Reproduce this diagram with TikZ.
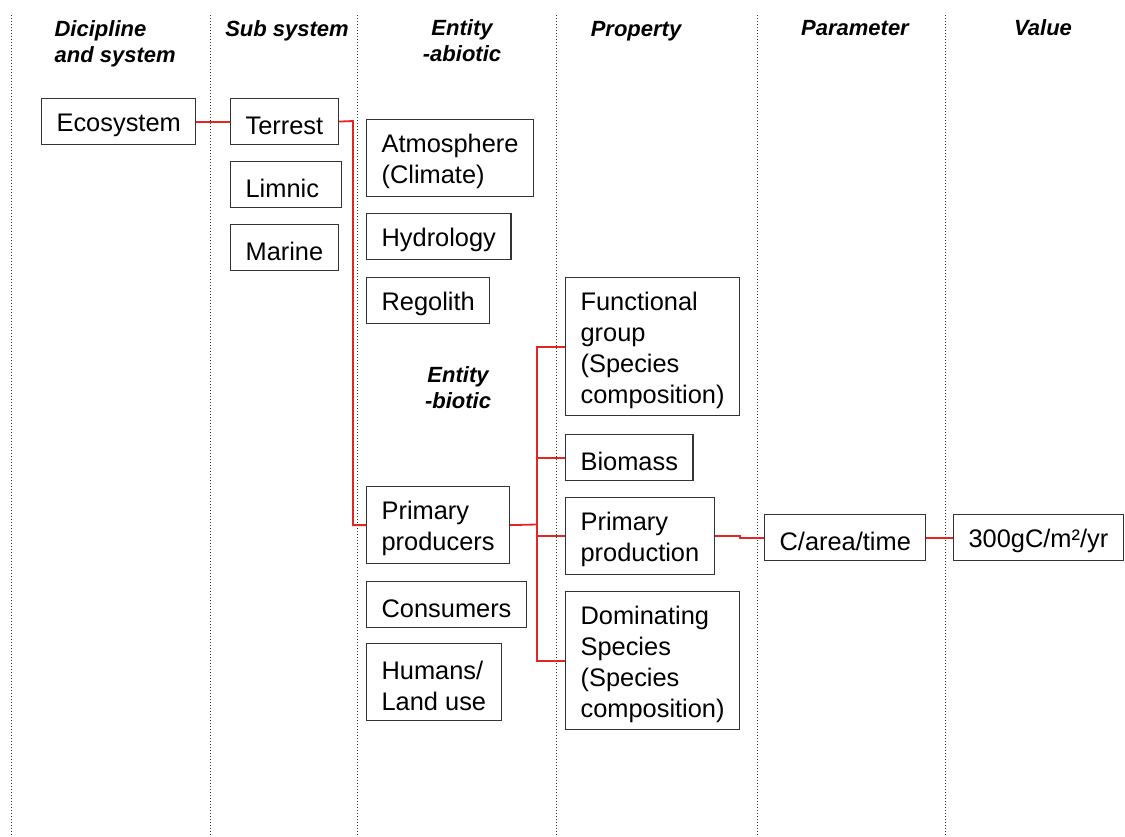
\documentclass[tikz,border=0pt]{standalone}
\usepackage{fontspec}
\setmainfont{Liberation Sans}
\usetikzlibrary{calc}
\definecolor{linkred}{RGB}{226,38,38}
\newcommand{\tall}{\rule{0pt}{13pt}}

\begin{document}
\begin{tikzpicture}[x=0.5pt,y=-0.5pt,
  every node/.style={draw=black!80, line width=0.6pt, anchor=north west, align=left, inner xsep=7.5pt, inner ysep=0pt, font=\fontsize{12.7}{15.5}\selectfont},
  box1/.style={minimum height=23pt},
  box2/.style={minimum height=38.5pt},
  box4/.style={minimum height=69pt},
  head/.style={draw=none, anchor=center, align=center, inner sep=0pt, font=\fontsize{11}{13}\selectfont\bfseries\itshape},
  link/.style={draw=linkred, line width=0.9pt}]
	\useasboundingbox (0,0) rectangle (1125,836);
	%% column rules
	\foreach \x in {11,210,357,556,757,945}{
		\draw[densely dotted, line width=0.5pt, black!80] (\x,15) -- (\x,836);
		}
	%% column heads
	\node[head, anchor=west, align=left] (h1) at (54,44){Dicipline\\and system};
	\node[head] (h2) at (287,31){Sub system};
	\node[head] (h3) at (462,41){Entity\\-abiotic};
	\node[head] (h4) at (636,31){Property};
	\node[head] (h5) at (855,28){Parameter};
	\node[head] (h6) at (1043,28){Value};
	\node[head] (h7) at (458,388){Entity\\-biotic};
	%system and sub systems
	\node[box1] (eco) at (41,98){\tall Ecosystem};
	\node[box1] (terr) at (230,98){\tall Terrest};
	\node[box1, text width=40.5pt] (limn) at (230,161){\tall Limnic};
	\node[box1] (mar) at (230,224){\tall Marine};
	%entities
	\node[box2] (atmo) at (366,119){\tall Atmosphere\\(Climate)};
	\node[box1] (hydro) at (366,213){\tall Hydrology};
	\node[box1] (rego) at (366,277){\tall Regolith};
	\node[box2] (pprod) at (366,486){\tall Primary\\producers};
	\node[box1] (cons) at (366,581){\tall Consumers};
	\node[box2] (hum) at (366,643){\tall Humans/\\Land use};
	%properties
	\node[box4] (func) at (565,277){\tall Functional\\group\\(Species\\composition)};
	\node[box1] (bio) at (565,434){\tall Biomass};
	\node[box2] (pprodn) at (565,497){\tall Primary\\production};
	\node[box4] (dom) at (565,591){\tall Dominating\\Species\\(Species\\composition)};
	%parameter and value
	\node[box1] (carea) at (764,514){\tall C/area/time};
	\node[box1] (val) at (953,514){\tall 300gC/m²/yr};
	%% red links
	\coordinate (b1) at (353,121);
	\coordinate (b2) at (537,524.5);
	\draw[link] (eco.east) -- (terr.west);
	\draw[link] (terr.east) -- (b1) |- (pprod.west);
	\draw[link] (pprod.east) -- (b2);
	\draw[link] (b2) |- (func.west) (b2) |- (bio.west) (b2) |- (pprodn.west) (b2) |- (dom.west);
	\draw[link] (pprodn.east) -- ++(25,0) |- (carea.west);
	\draw[link] (carea.east) -- (val.west);
\end{tikzpicture}
\end{document}
